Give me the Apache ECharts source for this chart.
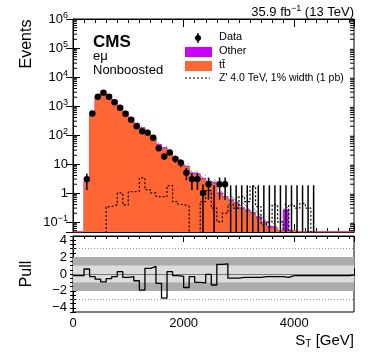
<!DOCTYPE html>
<html><head><meta charset="utf-8">
<script src="https://cdn.jsdelivr.net/npm/echarts@6/dist/echarts.min.js"></script>
<style>html,body{margin:0;padding:0;background:#fff}#c{width:378px;height:355px}</style>
</head><body><div id="c"></div>
<script>
// bins of 100 GeV starting at 0
var binW = 100;
var xMax = 5080;
var ttbar = [0,0,2.4,575,2140,2980,2320,1540,955,600,370,236,167,110,73,43,33,22.7,15.8,11.2,7.6,4.4,4.05,2.85,2.2,1.95,0.9,0.69,0.52,0.42,0.28,0.23,0.19,0.13,0.09,0.06,0.06,0.05,0.04,0.05,0,0,0,0,0,0,0,0,0,0,0];
var other = [0,0,0.1,15,60,90,80,60,45,30,20,14,11,8,6,4,3.2,2.3,1.7,1.2,0.8,0.5,0.45,0.35,0.3,0.25,0.1,0.07,0.06,0.04,0.03,0.03,0.02,0.02,0.01,0.01,0,0,0.22,0,0,0,0,0,0,0,0,0,0,0,0];
var uncRel = [0.1,0.1,0.3,0.1,0.08,0.08,0.08,0.08,0.09,0.1,0.1,0.11,0.12,0.13,0.14,0.15,0.16,0.18,0.2,0.22,0.24,0.26,0.28,0.3,0.32,0.35,0.4,0.45,0.5,0.5,0.55,0.55,0.6,0.6,0.6,0.6,0.6,0.6,0.6,0.6,0.6,0.6,0.6,0.6,0.6,0.6,0.6,0.6,0.6,0.6,0.6];
var dataCounts = [null,null,3,550,2090,2880,2090,1350,870,540,333,200,134,120,80,35,18,25,15,11,5,3,3,1,2,0,2,2,0,0,0,0,0,0,0,0,0,0,0,0,0,0,0,0,null,null,null,null,null,null,null];
var zprime = [0,0,0,0,0,0,0.34,0.39,1.0,0.39,1.1,1.15,3.3,1.3,1.0,0.75,0.75,1.8,0.5,0.4,0.35,0,0,0.5,1.2,0.3,0.1,0.2,0.4,0.3,0.76,0.5,1.7,0.34,0.08,0.1,0.39,0.1,0.05,0.39,0.3,0.44,0.3,0,0,0,0,0,0,0,0];
var pull = [-0.2,-0.2,0.59,-0.3,-0.6,-0.94,-0.55,-0.3,0.27,-0.4,-0.3,-0.8,-1.9,0.67,0.9,-1.1,-2.86,0.27,-0.2,-0.27,-1.6,-0.3,-0.98,-1.06,-0.04,-1.3,1.14,1.2,-0.5,-0.5,-0.4,-0.4,-0.4,-0.4,-0.3,-0.3,-0.3,-0.3,-0.4,-0.2,-0.2,-0.2,-0.2,-0.2,-0.2,-0.2,-0.2,-0.2,-0.2,-0.2,-0.1];
var yMinorTicks = [];
[-2,-1,0,1,2,3,4,5].forEach(function(e){ for(var k=2;k<=9;k++) yMinorTicks.push(k*Math.pow(10,e)); });

var yMin = 0.045, yMax = 1e6;
var floorV = 0.0455;
var font = 'Liberation Sans';

function stepData(vals, fl) {
    var out = [];
    for (var i = 0; i < vals.length; i++) out.push([i * binW, Math.max(vals[i], fl)]);
    out.push([vals.length * binW, Math.max(vals[vals.length - 1], fl)]);
    return out;
}
var total = ttbar.map(function(v, i){ return v + other[i]; });

// hatch pattern for MC uncertainty
var pat = document.createElement('canvas');
pat.width = 5; pat.height = 5;
var g = pat.getContext('2d');
g.strokeStyle = '#8a8a8a'; g.lineWidth = 0.9;
g.beginPath(); g.moveTo(0,0); g.lineTo(5,5); g.moveTo(-1,4); g.lineTo(1,6); g.moveTo(4,-1); g.lineTo(6,1); g.stroke();

var myChart = echarts.init(document.getElementById('c'));

function logLabel(v) {
    var e = Math.round(Math.log10(v));
    if (Math.abs(v - Math.pow(10, e)) / v > 1e-6) return '';
    if (e == 0) return '1';
    if (e == 1) return '10';
    return '10{sup|' + (e < 0 ? '\u2212' : '') + Math.abs(e) + '}';
}
var axBase = {axisLine: {lineStyle: {color: '#000', width: 1}}, splitLine: {show: false}};
function xax(grid, pos, interval, len, labels) {
    return Object.assign({}, axBase, {
        type: 'value', gridIndex: grid, position: pos, min: 0, max: xMax, interval: interval,
        axisTick: {inside: true, length: len, lineStyle: {color: '#000'}},
        axisLabel: labels ? {show: true, fontFamily: font, fontSize: 13, color: '#000', margin: 5,
            formatter: function(v){ return v % 2000 == 0 ? String(v) : ''; }} : {show: false}
    });
}

myChart.setOption({
    animation: false,
    grid: [
        {left: 73, right: 24, top: 19, height: 213, show: true, borderColor: '#000', borderWidth: 1},
        {left: 73, right: 24, top: 236, height: 76, show: true, borderColor: '#000', borderWidth: 1}
    ],
    xAxis: [
        xax(0, 'bottom', 2000, 8, false), xax(0, 'bottom', 200, 4, false),
        xax(0, 'top', 2000, 8, false), xax(0, 'top', 200, 4, false),
        xax(1, 'bottom', 2000, 6, true), xax(1, 'bottom', 200, 3, false),
        xax(1, 'top', 2000, 6, false), xax(1, 'top', 200, 3, false)
    ],
    yAxis: [
        Object.assign({}, axBase, {type: 'log', gridIndex: 0, position: 'left', min: yMin, max: yMax, splitNumber: 8,
            axisTick: {inside: true, length: 7, lineStyle: {color: '#000'}},
            axisLabel: {fontFamily: font, fontSize: 13, color: '#000', margin: 5, formatter: logLabel,
                rich: {sup: {fontFamily: font, fontSize: 9, color: '#000', verticalAlign: 'bottom', padding: [0, 0, 7, 0]}}}}),
        Object.assign({}, axBase, {type: 'log', gridIndex: 0, position: 'right', min: yMin, max: yMax, splitNumber: 8,
            axisTick: {inside: true, length: 7, lineStyle: {color: '#000'}}, axisLabel: {show: false}}),
        Object.assign({}, axBase, {type: 'value', gridIndex: 1, position: 'left', min: -4.5, max: 4.5, interval: 0.5,
            axisTick: {inside: true, length: 3, lineStyle: {color: '#000'}},
            axisLabel: {fontFamily: font, fontSize: 13, color: '#000', margin: 6,
                formatter: function(v){ return (Math.abs(v) % 2 == 0) ? String(v).replace('-', '\u2212') : ''; }}}),
        Object.assign({}, axBase, {type: 'value', gridIndex: 1, position: 'right', min: -4.5, max: 4.5, interval: 0.5,
            axisTick: {inside: true, length: 3, lineStyle: {color: '#000'}}, axisLabel: {show: false}})
    ],
    series: [
        {   // Other (stacked on top of ttbar)
            type: 'line', xAxisIndex: 0, yAxisIndex: 0, step: 'end', symbol: 'none', z: 2,
            data: stepData(total, floorV),
            lineStyle: {color: '#cc00ff', width: 1},
            areaStyle: {color: '#cc00ff', opacity: 1, origin: 'start'}
        },
        {   // ttbar
            type: 'line', xAxisIndex: 0, yAxisIndex: 0, step: 'end', symbol: 'none', z: 3,
            data: stepData(ttbar, floorV),
            lineStyle: {color: '#ff6633', width: 1},
            areaStyle: {color: '#ff6633', opacity: 1, origin: 'start'}
        },
        {   // MC uncertainty band
            type: 'custom', xAxisIndex: 0, yAxisIndex: 0, z: 4, clip: true,
            data: total.map(function(v, i){ return [i * binW, v, uncRel[i]]; }).filter(function(d){ return d[1] > 0.05; }),
            renderItem: function(params, api) {
                var x0 = api.value(0), v = api.value(1), u = api.value(2);
                var p1 = api.coord([x0, v * (1 + u)]);
                var p2 = api.coord([Math.min(x0 + binW, xMax), Math.max(v * (1 - u), yMin)]);
                return {type: 'rect', shape: {x: p1[0], y: p1[1], width: p2[0] - p1[0], height: p2[1] - p1[1]},
                    style: {fill: {image: pat, repeat: 'repeat'}, stroke: null}};
            }
        },
        {   // Z' signal
            type: 'line', xAxisIndex: 0, yAxisIndex: 0, step: 'end', symbol: 'none', z: 5,
            data: stepData(zprime, 0.001),
            lineStyle: {color: '#000', width: 1.2, type: [2, 2]}
        },
        {   // data points with error bars
            type: 'custom', xAxisIndex: 0, yAxisIndex: 0, z: 6,
            data: dataCounts.map(function(n, i){ return [i * binW + binW / 2, n]; }).filter(function(d){ return d[1] !== null; }),
            renderItem: function(params, api) {
                var x = api.value(0), n = api.value(1);
                var cs = params.coordSys, bot = cs.y + cs.height;
                var hi = n > 0 ? n + Math.sqrt(n) : 1.84;
                var lo = n - Math.sqrt(n);
                var pTop = api.coord([x, hi]);
                var yb = lo > yMin ? api.coord([x, lo])[1] : bot;
                var kids = [{type: 'line', shape: {x1: pTop[0], y1: pTop[1], x2: pTop[0], y2: yb}, style: {stroke: '#000', lineWidth: 1.5}}];
                if (n > 0) {
                    var p = api.coord([x, n]);
                    kids.push({type: 'circle', shape: {cx: p[0], cy: p[1], r: 3.2}, style: {fill: '#000'}});
                }
                return {type: 'group', children: kids};
            }
        },
        {   // minor log ticks on both sides
            type: 'custom', xAxisIndex: 0, yAxisIndex: 0, z: 7, silent: true,
            data: yMinorTicks.filter(function(v){ return v > yMin && v < yMax; }).map(function(v){ return [0, v]; }),
            renderItem: function(params, api) {
                var cs = params.coordSys;
                var y = api.coord([0, api.value(1)])[1];
                return {type: 'group', children: [
                    {type: 'line', shape: {x1: cs.x, y1: y, x2: cs.x + 4, y2: y}, style: {stroke: '#000', lineWidth: 1}},
                    {type: 'line', shape: {x1: cs.x + cs.width - 4, y1: y, x2: cs.x + cs.width, y2: y}, style: {stroke: '#000', lineWidth: 1}}
                ]};
            }
        },
        {   // pull
            type: 'line', xAxisIndex: 4, yAxisIndex: 2, step: 'end', symbol: 'none', z: 5,
            data: stepData(pull, -10),
            lineStyle: {color: '#000', width: 1.3},
            markArea: {silent: true, data: [
                [{yAxis: -2, itemStyle: {color: '#acacac'}}, {yAxis: 2}],
                [{yAxis: -1, itemStyle: {color: '#dcdcdc'}}, {yAxis: 1}]
            ]},
            markLine: {silent: true, symbol: 'none', label: {show: false}, data: [
                {yAxis: 0, lineStyle: {color: '#777', width: 1, type: 'solid'}},
                {yAxis: 3, lineStyle: {color: '#999', width: 1, type: [1, 2]}},
                {yAxis: -3, lineStyle: {color: '#999', width: 1, type: [1, 2]}}
            ]}
        }
    ],
    graphic: [
        {type: 'text', right: 24, top: 4, style: {text: '35.9 fb{sup|\u22121} (13 TeV)', font: '13px ' + font, fill: '#000',
            rich: {sup: {fontSize: 9, fontFamily: font, verticalAlign: 'bottom', padding: [0, 0, 7, 0]}}}},
        {type: 'text', x: 93, y: 42, style: {text: 'CMS', font: 'bold 17px ' + font, fill: '#000', verticalAlign: 'middle'}},
        {type: 'text', x: 93, y: 56, style: {text: 'e\u03bc', font: '13px ' + font, fill: '#000', verticalAlign: 'middle'}},
        {type: 'text', x: 93, y: 70, style: {text: 'Nonboosted', font: '13px ' + font, fill: '#000', verticalAlign: 'middle'}},
        {type: 'line', shape: {x1: 198, y1: 33, x2: 198, y2: 43}, style: {stroke: '#000', lineWidth: 1.5}},
        {type: 'circle', shape: {cx: 198, cy: 38, r: 3}, style: {fill: '#000'}},
        {type: 'text', x: 219, y: 37, style: {text: 'Data', font: '11px ' + font, fill: '#000', verticalAlign: 'middle'}},
        {type: 'rect', shape: {x: 185, y: 47, width: 27, height: 10}, style: {fill: '#cc00ff'}},
        {type: 'text', x: 219, y: 51, style: {text: 'Other', font: '11px ' + font, fill: '#000', verticalAlign: 'middle'}},
        {type: 'rect', shape: {x: 185, y: 61, width: 27, height: 10}, style: {fill: '#ff6633'}},
        {type: 'text', x: 219, y: 65, style: {text: 'tt\u0304', font: '11px ' + font, fill: '#000', verticalAlign: 'middle'}},
        {type: 'line', shape: {x1: 185, y1: 78, x2: 210, y2: 78}, style: {stroke: '#000', lineWidth: 1.2, lineDash: [2, 2]}},
        {type: 'text', x: 219, y: 78, style: {text: "Z' 4.0 TeV, 1% width (1 pb)", font: '10.5px ' + font, fill: '#000', verticalAlign: 'middle'}},
        {type: 'text', x: 27, y: 44, rotation: Math.PI / 2, style: {text: 'Events', font: '16px ' + font, fill: '#000', align: 'center', verticalAlign: 'middle'}},
        {type: 'text', x: 27, y: 274, rotation: Math.PI / 2, style: {text: 'Pull', font: '16px ' + font, fill: '#000', align: 'center', verticalAlign: 'middle'}},
        {type: 'text', x: 354, y: 341, style: {text: 'S{sub|T} [GeV]', font: '15px ' + font, fill: '#000', align: 'right', verticalAlign: 'middle',
            rich: {sub: {fontSize: 10, fontFamily: font, verticalAlign: 'top', padding: [6, 0, 0, 0]}}}}
    ]
});
</script>
</body></html>
